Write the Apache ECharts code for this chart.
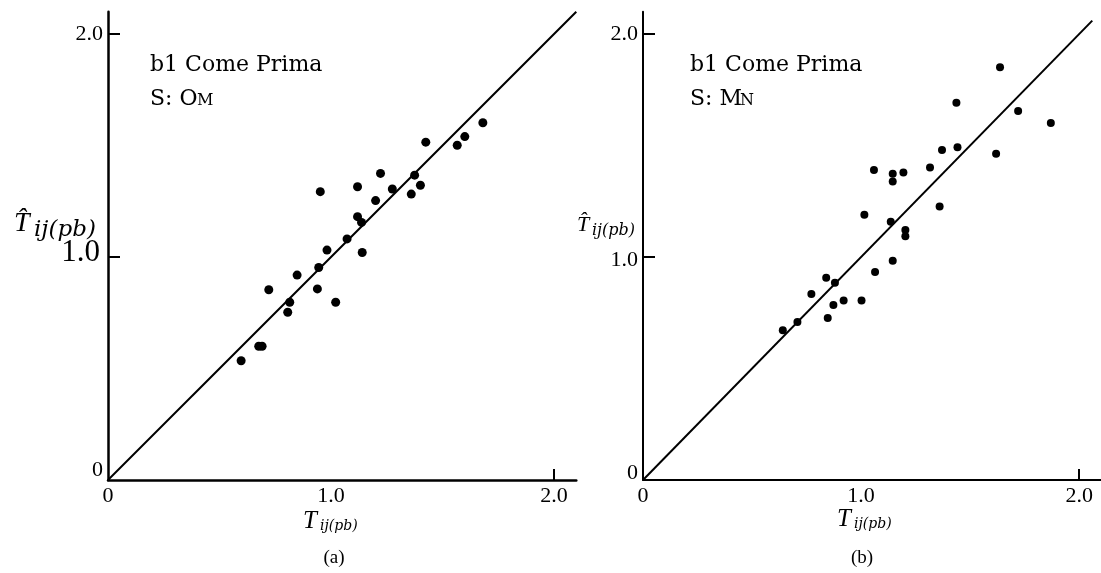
<!DOCTYPE html>
<html><head><meta charset="utf-8">
<script src="https://cdn.jsdelivr.net/npm/echarts@6/dist/echarts.min.js"></script>
<style>html,body{margin:0;padding:0;background:#fff}#c{width:1101px;height:573px}</style>
</head><body><div id="c"></div>
<script>
// ---- data ----
const tickValues = [0, 1, 2];
const tickLabels = ['0', '1.0', '2.0'];
const axisMax = 2.1;
const lineA = [[0, 0], [2.1, 2.1]];     // y = x reference line, panel (a)
const lineB = [[0, 0], [2.06, 2.06]];   // y = x reference line, panel (b)

// panel (a)  b1 Come Prima, S: OM
const omX = [0.597,0.676,0.691,0.721,0.806,0.815,0.848,0.939,0.945,0.952,0.982,1.021,1.072,1.119,1.119,1.137,1.140,1.200,1.222,1.275,1.360,1.375,1.401,1.425,1.566,1.600,1.681];
const omY = [0.535,0.600,0.600,0.853,0.752,0.797,0.919,0.857,0.953,1.293,1.031,0.797,1.081,1.181,1.315,1.155,1.020,1.253,1.375,1.305,1.282,1.367,1.322,1.515,1.501,1.540,1.602];

// panel (b)  b1 Come Prima, S: MN
const mnX = [0.641,0.708,0.772,0.840,0.847,0.873,0.880,0.920,1.002,1.015,1.059,1.064,1.136,1.145,1.145,1.145,1.194,1.203,1.203,1.316,1.360,1.371,1.442,1.437,1.619,1.637,1.720,1.870];
const mnY = [0.672,0.709,0.834,0.907,0.726,0.785,0.885,0.805,0.805,1.189,1.390,0.933,1.158,1.373,1.339,0.983,1.379,1.121,1.093,1.401,1.226,1.480,1.492,1.692,1.463,1.851,1.655,1.601];

const zip = (xs, ys) => xs.map((x, i) => [x, ys[i]]);
const serif = 'Liberation Serif';
const dserif = 'DejaVu Serif';

function xAxis(gi, w) {
  return {
    type: 'value', gridIndex: gi, min: 0, max: axisMax,
    splitLine: {show: false},
    axisLine: {show: true, onZero: false, lineStyle: {color: '#000', width: w}},
    axisTick: {show: true, inside: true, length: 11, customValues: [2], lineStyle: {color: '#000', width: 2}},
    axisLabel: {customValues: tickValues, margin: 5, color: '#000', fontFamily: serif, fontSize: 22,
      formatter: v => tickLabels[tickValues.indexOf(v)]}
  };
}
function yAxis(gi, w, rich) {
  return {
    type: 'value', gridIndex: gi, min: 0, max: axisMax,
    splitLine: {show: false},
    axisLine: {show: true, onZero: false, lineStyle: {color: '#000', width: w}},
    axisTick: {show: true, inside: true, length: 12, customValues: [1, 2], lineStyle: {color: '#000', width: 2}},
    axisLabel: {customValues: tickValues, margin: 5, color: '#000', fontFamily: serif, fontSize: 22,
      formatter: v => '{' + ['z', 'o', 't'][tickValues.indexOf(v)] + '|' + tickLabels[tickValues.indexOf(v)] + '}',
      rich: rich}
  };
}

const txt = (x, y, s, font, extra) => Object.assign({
  type: 'text', x: x, y: y, silent: true,
  style: Object.assign({text: s, font: font, fill: '#000', align: 'left', verticalAlign: 'middle'}, extra || {})
});

const chart = echarts.init(document.getElementById('c'), null, {renderer: 'canvas'});
chart.setOption({
  animation: false,
  backgroundColor: '#fff',
  grid: [
    {left: 108, top: 480 - axisMax * 223, width: axisMax * 223, height: axisMax * 223},
    {left: 643, top: 480 - axisMax * 223, width: axisMax * 220, height: axisMax * 223}
  ],
  xAxis: [xAxis(0, 2.5), xAxis(1, 2)],
  yAxis: [
    yAxis(0, 2.5, {
      z: {fontFamily: serif, fontSize: 22, color: '#000', padding: [0, 0, 20, 0]},
      o: {fontFamily: serif, fontSize: 31, color: '#000', padding: [0, 3, 8, 0]},
      t: {fontFamily: serif, fontSize: 22, color: '#000'}
    }),
    yAxis(1, 2, {
      z: {fontFamily: serif, fontSize: 22, color: '#000', padding: [0, 0, 14, 0]},
      o: {fontFamily: serif, fontSize: 22, color: '#000', padding: [6, 0, 0, 0]},
      t: {fontFamily: serif, fontSize: 22, color: '#000'}
    })
  ],
  series: [
    {type: 'line', xAxisIndex: 0, yAxisIndex: 0, data: lineA, symbol: 'none', clip: false,
      lineStyle: {color: '#000', width: 2}, silent: true},
    {type: 'scatter', xAxisIndex: 0, yAxisIndex: 0, data: zip(omX, omY), symbol: 'circle', symbolSize: 9,
      itemStyle: {color: '#000', opacity: 1}, silent: true},
    {type: 'line', xAxisIndex: 1, yAxisIndex: 1, data: lineB, symbol: 'none', clip: false,
      lineStyle: {color: '#000', width: 2}, silent: true},
    {type: 'scatter', xAxisIndex: 1, yAxisIndex: 1, data: zip(mnX, mnY), symbol: 'circle', symbolSize: 8,
      itemStyle: {color: '#000', opacity: 1}, silent: true}
  ],
  graphic: [
    // panel (a) annotation
    txt(150, 65, 'b1 Come Prima', '22px "' + dserif + '"'),
    txt(150, 99, 'S: O', '22px "' + dserif + '"'),
    txt(197, 101, 'M', '16px "' + dserif + '"'),
    // panel (b) annotation
    txt(690, 65, 'b1 Come Prima', '22px "' + dserif + '"'),
    txt(690, 99, 'S: M', '22px "' + dserif + '"'),
    txt(740, 101, 'N', '16px "' + dserif + '"'),
    // y-axis name (a)
    txt(14, 224, 'T\u0302', 'italic 28px "' + serif + '"'),
    txt(34, 230, 'ij(pb)', 'italic 23px "' + dserif + '"'),
    // y-axis name (b)
    txt(577, 225, 'T\u0302', 'italic 22px "' + serif + '"'),
    txt(592, 231, 'ij(pb)', 'italic 16px "' + dserif + '"'),
    // x-axis names
    txt(303, 521, 'T', 'italic 25px "' + serif + '"'),
    txt(320, 526, 'ij(pb)', 'italic 14px "' + dserif + '"'),
    txt(837, 519, 'T', 'italic 25px "' + serif + '"'),
    txt(854, 524, 'ij(pb)', 'italic 14px "' + dserif + '"'),
    // panel captions
    txt(334, 558, '(a)', '19px "' + serif + '"', {align: 'center'}),
    txt(862, 558, '(b)', '19px "' + serif + '"', {align: 'center'})
  ]
});
</script>
</body></html>
